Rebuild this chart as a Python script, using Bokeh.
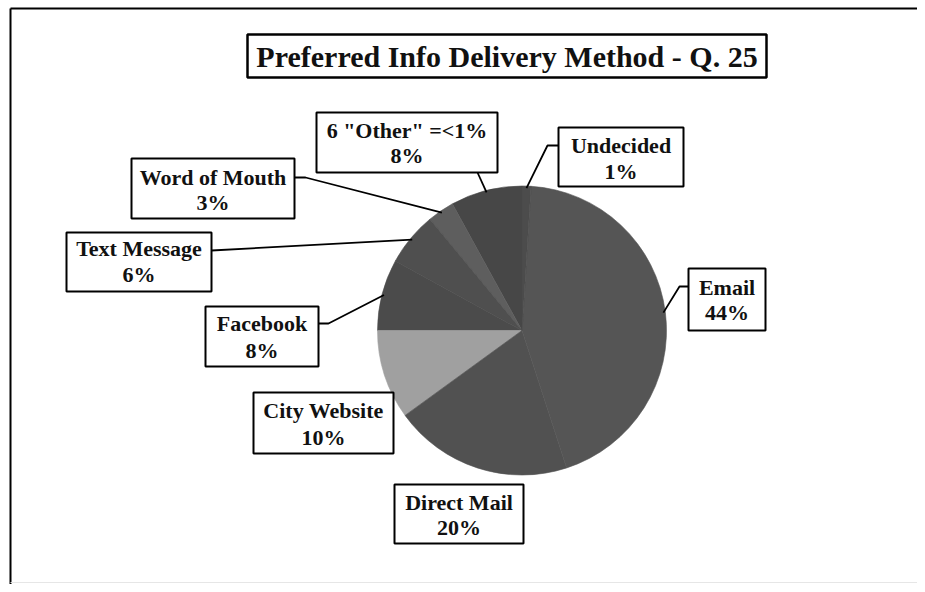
import math
from bokeh.plotting import figure
from bokeh.models import Range1d
from bokeh.embed import file_html
from bokeh.resources import INLINE
from bokeh.core.properties import value

# ---------------- data ----------------
title = "Preferred Info Delivery Method - Q. 25"
categories = ['6 "Other" =<1%', "Word of Mouth", "Text Message", "Facebook",
              "City Website", "Direct Mail", "Email", "Undecided"]
shares = [8, 3, 6, 8, 10, 20, 44, 1]
pct_labels = ["8%", "3%", "6%", "8%", "10%", "20%", "44%", "1%"]

# ---------------- styles / layout (reference pixel space, y downward) ----------------
slice_colors = ["#474747", "#5e5e5e", "#4f4f4f", "#4b4b4b",
                "#a0a0a0", "#515151", "#555555", "#4c4c4c"]
PW, PH = 917, 584
pie_cx, pie_cy, pie_r = 521.5, 330, 144.5

box_left = [316, 131, 66, 205, 253, 394, 688, 558]
box_right = [497, 294, 211, 318, 393, 523, 765, 683]
box_top = [112, 158, 232, 306, 392, 484, 268, 127]
box_bottom = [172, 218, 291, 366, 453, 543, 330, 186]
line1_y = [130, 177, 248, 323, 410, 502, 287, 145]
line2_y = [155, 202, 274, 350, 437, 527, 312, 171]
anchor = [(477, 172), (294, 177), (211, 250), (318, 323), None, None, (688, 286), (558, 145)]
elbow = [None, (305, 177), None, (328, 323), None, None, (679, 286), (547, 145)]

font = value("Liberation Serif")


def Y(y):
    return PH - y


p = figure(width=PW, height=PH, output_backend="svg", toolbar_location=None,
           x_range=Range1d(0, PW), y_range=Range1d(0, PH),
           x_axis_location=None, y_axis_location=None, min_border=0,
           background_fill_color="white", border_fill_color="white")
p.outline_line_color = None
p.grid.visible = False

# outer frame of the scanned page
p.line([10, PW], [Y(8), Y(8)], line_color="black", line_width=2)
p.line([10, 10], [Y(8), Y(PH)], line_color="black", line_width=2)
p.line([10, PW], [Y(582), Y(582)], line_color="#e6e6e6", line_width=1)

# pie slices, anticlockwise from the top
total = float(sum(shares))
starts, ends, mids = [], [], []
acc = 0.0
for s in shares:
    a0 = math.pi / 2 + 2 * math.pi * acc / total
    acc += s
    a1 = math.pi / 2 + 2 * math.pi * acc / total
    starts.append(a0)
    ends.append(a1)
    mids.append((a0 + a1) / 2)

p.wedge(x=[pie_cx] * len(shares), y=[Y(pie_cy)] * len(shares), radius=pie_r,
        start_angle=starts, end_angle=ends, fill_color=slice_colors,
        line_color=slice_colors, line_width=0.6)

# leader lines
for i in range(len(shares)):
    if anchor[i] is None:
        continue
    ex = pie_cx + (pie_r - 2) * math.cos(mids[i])
    ey = Y(pie_cy) + (pie_r - 2) * math.sin(mids[i])
    xs = [anchor[i][0]]
    ys = [Y(anchor[i][1])]
    if elbow[i] is not None:
        xs.append(elbow[i][0])
        ys.append(Y(elbow[i][1]))
    xs.append(ex)
    ys.append(ey)
    p.line(xs, ys, line_color="black", line_width=1.8)

# label boxes
p.quad(left=box_left, right=box_right, top=[Y(t) for t in box_top],
       bottom=[Y(b) for b in box_bottom], fill_color="white",
       line_color="black", line_width=2)

cxs = [(l + r) / 2 for l, r in zip(box_left, box_right)]
p.text(x=cxs, y=[Y(v) for v in line1_y], text=categories, text_font=font,
       text_font_style="bold", text_font_size="22px", text_align="center",
       text_baseline="middle", text_color="#111111")
p.text(x=cxs, y=[Y(v) for v in line2_y], text=pct_labels, text_font=font,
       text_font_style="bold", text_font_size="22px", text_align="center",
       text_baseline="middle", text_color="#111111")

# title box
p.quad(left=[247], right=[766], top=[Y(34)], bottom=[Y(77)], fill_color="white",
       line_color="black", line_width=2.5)
p.text(x=[506.5], y=[Y(56)], text=[title], text_font=font, text_font_style="bold",
       text_font_size="30px", text_align="center", text_baseline="middle",
       text_color="#111111")

open("out.html", "w").write(file_html(p, INLINE))
